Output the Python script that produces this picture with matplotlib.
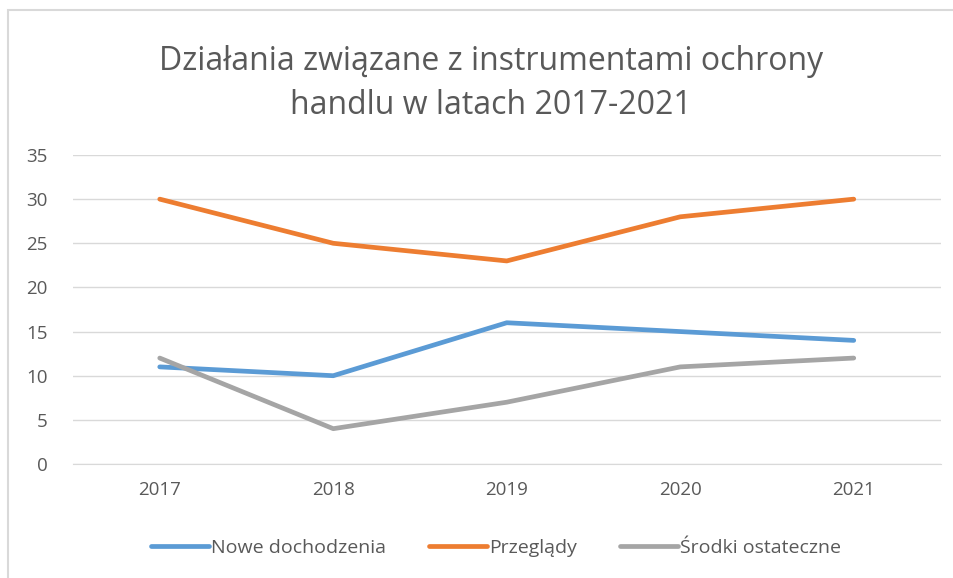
import matplotlib.pyplot as plt
from matplotlib.patches import Rectangle

years = ["2017", "2018", "2019", "2020", "2021"]
nowe = [11, 10, 16, 15, 14]
przeglady = [30, 25, 23, 28, 30]
srodki = [12, 4, 7, 11, 12]

W, H = 954, 578
txt = "#595959"
plt.rcParams['font.family'] = ['Open Sans', 'DejaVu Sans']

fig = plt.figure(figsize=(W / 100, H / 100), dpi=100)
ax = fig.add_axes([73 / W, 1 - 464 / H, 867.5 / W, (464 - 155) / H])

# chart frame, cut off at the right and bottom edges
fig.patches.append(Rectangle((8 / W, -0.1), 1.2, 1 - 10 / H + 0.1,
                             transform=fig.transFigure, fill=False,
                             edgecolor="#d9d9d9", linewidth=1.5))

x = range(len(years))
ax.plot(x, nowe, color="#5B9BD5", lw=3.4, label="Nowe dochodzenia", solid_capstyle="round")
ax.plot(x, przeglady, color="#ED7D31", lw=3.4, label="Przeglądy", solid_capstyle="round")
ax.plot(x, srodki, color="#A5A5A5", lw=3.4, label="Środki ostateczne", solid_capstyle="round")

ax.set_xlim(-0.5, 4.5)
ax.set_ylim(0, 35)
ax.set_yticks(range(0, 36, 5))
ax.set_xticks(list(x))
ax.set_xticklabels(years)
ax.grid(axis="y", color="#d9d9d9", lw=1)
ax.set_axisbelow(True)
for s in ["top", "right", "left"]:
    ax.spines[s].set_visible(False)
ax.spines["bottom"].set_color("#d9d9d9")
ax.tick_params(length=0, labelsize=13.5, colors=txt)
ax.tick_params(axis="y", pad=18)
ax.tick_params(axis="x", pad=12)

fig.text(491 / W, 1 - 62 / H, "Działania związane z instrumentami ochrony",
         ha="center", va="center", fontsize=23, color=txt)
fig.text(491 / W, 1 - 105 / H, "handlu w latach 2017-2021",
         ha="center", va="center", fontsize=23, color=txt)

fig.legend(loc="center", bbox_to_anchor=(496 / W, 1 - 548 / H), ncol=3,
           frameon=False, fontsize=14, labelcolor=txt, handlelength=3.0,
           handletextpad=0.1, columnspacing=2.2)

fig.savefig("out.png", dpi=100)
